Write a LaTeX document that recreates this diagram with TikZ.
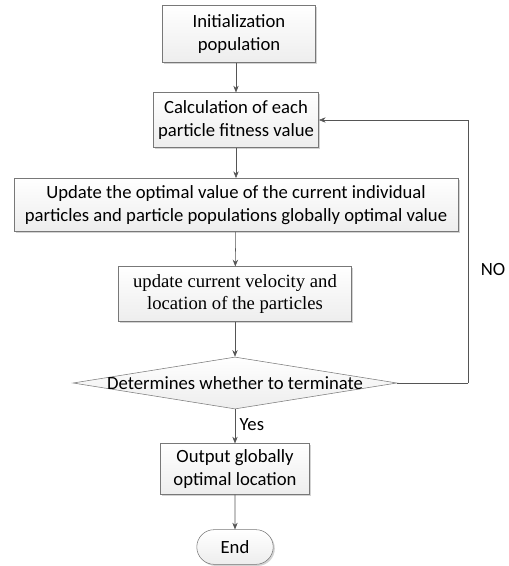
\documentclass[tikz,border=0pt]{standalone}
\usepackage{fontspec}
\setmainfont{Carlito}
\newfontfamily\timesfont{Liberation Serif}
\usetikzlibrary{arrows.meta,shapes.geometric,shapes.misc,shadows}
\definecolor{lineclr}{RGB}{85,85,85}
\definecolor{edgeclr}{RGB}{120,120,120}
\tikzset{
    procbox/.style={draw=edgeclr, top color=white, bottom color=gray!14,
        drop shadow={shadow xshift=1.2pt, shadow yshift=-1.2pt, opacity=0.35},
        align=center, inner sep=2pt, font=\fontsize{14}{17}\selectfont},
    decision/.style={diamond, draw=edgeclr, top color=white, bottom color=gray!14,
        inner sep=0pt, minimum width=243pt, minimum height=39pt},
    endbox/.style={rounded rectangle, draw=edgeclr, top color=white, bottom color=gray!14,
        drop shadow={shadow xshift=1.2pt, shadow yshift=-1.2pt, opacity=0.35},
        minimum width=64pt, minimum height=26pt, font=\fontsize{14}{17}\selectfont},
    flow/.style={draw=lineclr, -{Stealth[length=5pt,width=4pt]}},
    plain/.style={font=\fontsize{14}{17}\selectfont}
}
\begin{document}
\begin{tikzpicture}[x=0.75pt, y=-0.75pt]
    \useasboundingbox (0,0) rectangle (508,566);

    %boxes
    \node[procbox, minimum width=115pt, minimum height=43pt] (init) at (239,34) {Initialization\\population};
    \node[procbox, minimum width=124pt, minimum height=41pt] (calc) at (236,120) {Calculation of each\\particle fitness value};
    \node[procbox, minimum width=333pt, minimum height=40pt] (update) at (236,205) {Update the optimal value of the current individual\\particles and particle populations globally optimal value};
    \node[procbox, minimum width=175pt, minimum height=41pt, font=\timesfont\fontsize{14}{17}\selectfont] (velo) at (235,294) {update current velocity and\\location of the particles};

    %decision
    \node[decision] (judge) at (235,383) {};
    \node[plain] (judgetxt) at (judge) {Determines whether to terminate};

    %end
    \node[procbox, minimum width=112pt, minimum height=38pt] (output) at (235,469) {Output globally\\optimal location};
    \node[endbox] (stop) at (235,547) {End};

    %arrows
    \path[flow] (init.south -| calc.north) -- (calc.north);
    \path[flow] (calc) -- (update);
    \path[flow] (update) -- (velo);
    \path[flow] (velo) -- (judge);
    \path[flow] (judge) -- node[plain, right, pos=0.45] (yes) {Yes} (output);
    \path[flow] (output) -- (stop);

    %loop back
    \coordinate (turn) at (468,383);
    \draw[lineclr] (judge.east) -- (turn);
    \path[flow] (turn) |- (calc.east);
    \node[plain] (no) at (493,270) {NO};
\end{tikzpicture}
\end{document}
